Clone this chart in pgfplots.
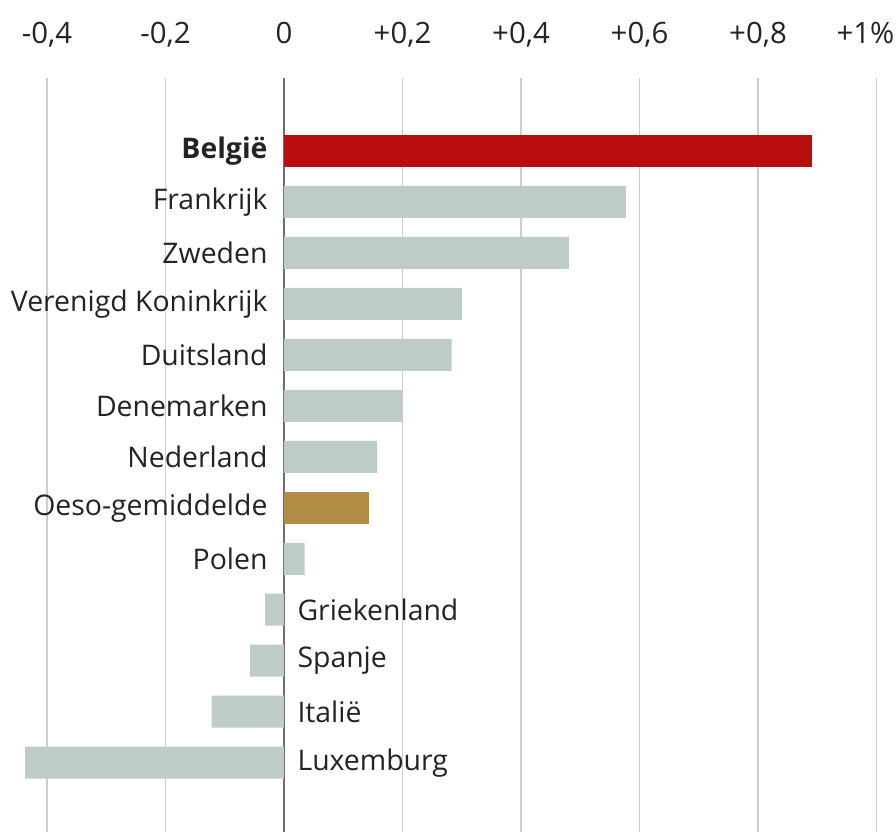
\documentclass[border=0pt]{standalone}
\usepackage{pgfplots}
\pgfplotsset{compat=1.18}
\usepackage{fontspec}
\setmainfont{Open Sans}
\definecolor{barred}{RGB}{184,14,16}
\definecolor{bargray}{RGB}{190,204,199}
\definecolor{bargold}{RGB}{176,140,68}
\definecolor{gridgray}{RGB}{205,205,205}
\definecolor{zerogray}{RGB}{110,110,110}
\definecolor{txt}{RGB}{35,35,35}

\begin{document}
\begin{tikzpicture}
\begin{axis}[
  at={(0,0)}, anchor=south west,
  scale only axis, width=896bp, height=754bp,
  xmin=-0.4793, xmax=1.0329,
  ymin=-1.43, ymax=13.36, y dir=reverse,
  xbar, bar width=32bp, bar shift=0pt,
  axis line style={draw=none},
  major tick length=0pt,
  xtick={-0.4,-0.2,0.2,0.4,0.6,0.8,1.0},
  xticklabels={{-0,4},{-0,2},{+0,2},{+0,4},{+0,6},{+0,8},{\hspace*{-22bp}+1\%}},
  extra x ticks={0}, extra x tick labels={0},
  extra x tick style={grid style={draw=zerogray, line width=1.4bp}},
  xticklabel pos=top,
  xticklabel style={font=\fontsize{29.5}{34}\selectfont, text=txt, anchor=base, yshift=35bp},
  /pgf/number format/assume math mode=true,
  ytick=\empty,
  xmajorgrids, grid style={draw=gridgray, line width=1.2bp},
  clip=false,
]
  \addplot[fill=barred, draw=none] coordinates {(0.891,0)};
  \addplot[fill=bargray, draw=none] coordinates {
    (0.577,1) (0.481,2) (0.300,3) (0.283,4) (0.200,5) (0.157,6) (0.035,8)
    (-0.032,9) (-0.057,10) (-0.122,11) (-0.437,12)};
  \addplot[fill=bargold, draw=none] coordinates {(0.143,7)};
  \begin{scope}[every node/.style={font=\fontsize{28.5}{33}\selectfont, text=txt}]
    \node[anchor=east, xshift=-13bp] at (axis cs:0,0) {\textbf{België}};
    \node[anchor=east, xshift=-13bp] at (axis cs:0,1) {Frankrijk};
    \node[anchor=east, xshift=-13bp] at (axis cs:0,2) {Zweden};
    \node[anchor=east, xshift=-13bp] at (axis cs:0,3) {Verenigd Koninkrijk};
    \node[anchor=east, xshift=-13bp] at (axis cs:0,4) {Duitsland};
    \node[anchor=east, xshift=-13bp] at (axis cs:0,5) {Denemarken};
    \node[anchor=east, xshift=-13bp] at (axis cs:0,6) {Nederland};
    \node[anchor=east, xshift=-13bp] at (axis cs:0,7) {Oeso-gemiddelde};
    \node[anchor=east, xshift=-13bp] at (axis cs:0,8) {Polen};
    \node[anchor=west, xshift=10bp] at (axis cs:0,9) {Griekenland};
    \node[anchor=west, xshift=10bp] at (axis cs:0,10) {Spanje};
    \node[anchor=west, xshift=10bp] at (axis cs:0,11) {Italië};
    \node[anchor=west, xshift=10bp] at (axis cs:0,12) {Luxemburg};
  \end{scope}
\end{axis}
\pgfresetboundingbox
\path[use as bounding box] (0,0) rectangle (896bp,832bp);
\end{tikzpicture}
\end{document}
